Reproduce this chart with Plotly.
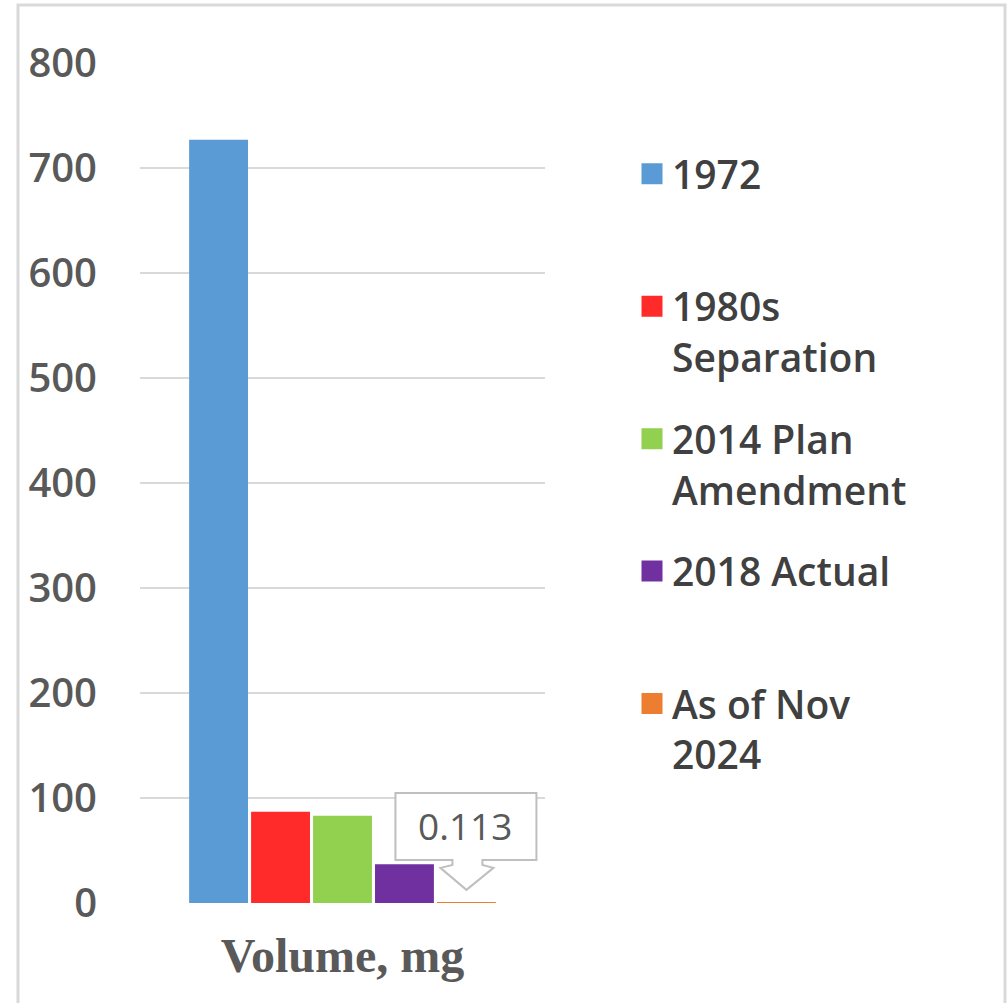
import plotly.graph_objects as go

# ---- data ----
category = ["Volume, mg"]
series_names = ["1972", "1980s<br>Separation", "2014 Plan<br>Amendment", "2018 Actual", "As of Nov<br>2024"]
legend_labels = ["1972<br> ", "1980s<br>Separation", "2014 Plan<br>Amendment", "2018 Actual<br> ", "As of Nov<br>2024"]
values = [727, 87, 83, 37, 0.113]
colors = ["#5B9BD5", "#FF2A2A", "#92D050", "#7030A0", "#ED7D31"]
callout_label = "0.113"
y_ticks = [0, 100, 200, 300, 400, 500, 600, 700, 800]

W, H = 1008, 1003
L, R, T, B = 140, 463, 63, 100
PW, PH = W - L - R, H - T - B
BARGAP = 0.235
BARGROUPGAP = 0.05


def px_x(p):
    return (p - L) / PW


def px_y(p):
    return (H - B - p) / PH


fig = go.Figure()
for i, (name, lab, v, c) in enumerate(zip(series_names, legend_labels, values, colors)):
    fig.add_trace(go.Bar(
        x=category, y=[v], name=name, marker_color=c, marker_line_width=0,
        showlegend=False, legendgroup=f"g{i}", hoverinfo="skip",
    ))
    fig.add_trace(go.Scatter(
        x=[None], y=[None], mode="markers", name=lab, legendgroup=f"g{i}",
        marker=dict(symbol="square", size=16, color=c, line=dict(color=c, width=5)),
    ))

# position of last bar (callout target) in category-axis units
n = len(values)
group_w = 1 - BARGAP
slot = group_w / n
last_center = -group_w / 2 + slot * (n - 0.5)

# callout (box + arrow) anchored to the last bar
fig.add_shape(
    type="path", xref="x", yref="y", xsizemode="pixel", ysizemode="pixel",
    xanchor=last_center, yanchor=values[-1],
    path="M -71,43 L -14,43 L -14,38 L -26,35 L 0,13 L 27,35 L 16,38 L 16,43 "
         "L 70,43 L 70,110 L -71,110 Z",
    line=dict(color="#BFBFBF", width=2), fillcolor="white", layer="above",
)
fig.add_annotation(
    x=last_center, y=values[-1], xref="x", yref="y", text=callout_label,
    showarrow=False, yshift=77, xshift=-1,
    font=dict(family="Open Sans", size=37, color="#595959"),
)

# outer border
fig.add_shape(
    type="rect", xref="paper", yref="paper",
    x0=px_x(18), x1=px_x(1005), y0=px_y(1015), y1=px_y(5),
    line=dict(color="#D9D9D9", width=3), fillcolor="rgba(0,0,0,0)", layer="below",
)

fig.update_layout(
    width=W, height=H,
    margin=dict(l=L, r=R, t=T, b=B, pad=0),
    paper_bgcolor="white", plot_bgcolor="white",
    barmode="group", bargap=BARGAP, bargroupgap=BARGROUPGAP,
    showlegend=True,
    legend=dict(
        x=px_x(632), y=px_y(142), xanchor="left", yanchor="top",
        font=dict(family="Open Sans", size=39, color="#404040", weight=600),
        valign="top", traceorder="grouped", tracegroupgap=28,
        bgcolor="rgba(0,0,0,0)", itemclick=False, itemdoubleclick=False,
    ),
    xaxis=dict(
        showgrid=False, showline=False, zeroline=False, ticks="",
        tickfont=dict(family="Liberation Serif", size=48, color="#595959", weight="bold"),
        ticklabelstandoff=20,
    ),
    yaxis=dict(
        range=[0, 800], tickvals=y_ticks, showgrid=True, gridcolor="#D9D9D9", gridwidth=2,
        zeroline=False, showline=False, ticks="",
        tickfont=dict(family="Open Sans", size=40, color="#595959", weight=600),
        ticklabelstandoff=42,
    ),
)

fig.write_html("out.html")
